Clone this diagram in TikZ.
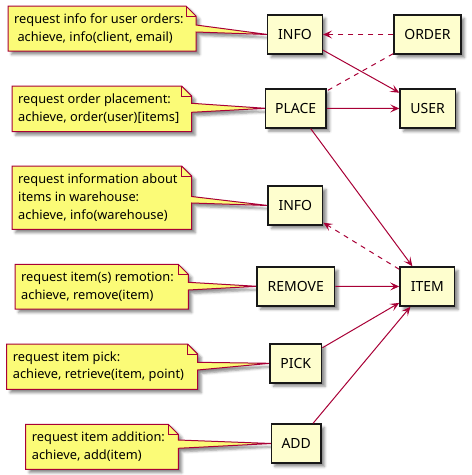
\documentclass[tikz,border=0pt]{standalone}
\usepackage{fontspec}
\setmainfont{Noto Sans}
\usetikzlibrary{arrows.meta,shadows.blur}
\definecolor{boxfill}{HTML}{FEFECE}
\definecolor{notefill}{HTML}{FBFB77}
\definecolor{plred}{HTML}{A80036}
\definecolor{boxline}{HTML}{181818}
\tikzset{
  pshadow/.style={blur shadow={shadow xshift=3.5pt, shadow yshift=-3.5pt, shadow blur radius=2.5pt, shadow opacity=45}},
  box/.style={draw=boxline, fill=boxfill, line width=1.5pt, minimum height=39pt, inner sep=0pt,
    font=\fontsize{14}{16}\selectfont, pshadow},
  notestyle/.style={draw=plred, fill=notefill, line width=1pt, line join=miter, pshadow},
  notetext/.style={font=\fontsize{12.8}{17.7}\selectfont, align=left, inner sep=0pt, anchor=west},
  conn/.style={draw=plred, line width=1pt},
  arr/.style={-{Stealth[length=9pt,width=8pt,inset=4pt]}},
  dsh/.style={dash pattern=on 5pt off 5pt},
}
% x1 y1 x2 y2 ya yb apex text
\newcommand\plnote[8]{%
  \path[notestyle] (#1,#2) -- (#3-10,#2) -- (#3,#2+10) -- (#3,#5) -- (#7) -- (#3,#6) -- (#3,#4) -- (#1,#4) -- cycle;
  \draw[plred, line width=1pt] (#3-10,#2) -- (#3-10,#2+10) -- (#3,#2+10);
  \node[notetext] at (#1+6, {(#2+#4)/2}) {#8};
}
\begin{document}
\begin{tikzpicture}[x=1pt,y=-1pt]
\useasboundingbox (0,0) rectangle (472,475);
% note tips (west sides of the boxes)
\coordinate (tip1) at (267.65,34.5);
\coordinate (tip2) at (265.35,108.3);
\coordinate (tip3) at (267.95,205.5);
\coordinate (tip4) at (256.95,286.3);
\coordinate (tip5) at (269.95,363.3);
\coordinate (tip6) at (271.35,443.5);
% notes
\plnote{8}{6}{196}{51}{25}{32}{tip1}{request info for user orders:\\\hspace*{3.3pt}achieve, info(client, email)}
\plnote{12}{86}{191.7}{131.7}{103.3}{112.3}{tip2}{request order placement:\\achieve, order(user)[items]}
\plnote{12}{166}{191.7}{229.3}{196.5}{203}{tip3}{request information about\\items in warehouse:\\achieve, info(warehouse)}
\plnote{15}{264.3}{188.3}{309}{282.3}{290}{tip4}{request item(s) remotion:\\achieve, remove(item)}
\plnote{6.7}{344}{197.7}{389.3}{362.3}{370}{tip5}{request item pick:\\achieve, retrieve(item, point)}
\plnote{25.7}{424.3}{178.3}{469.3}{440}{448.3}{tip6}{request item addition:\\achieve, add(item)}
% boxes
\node[box, minimum width=54.7pt] (info1) at (295,34.5) {INFO};
\node[box, minimum width=67pt] (order) at (427.5,34.5) {ORDER};
\node[box, minimum width=60.7pt] (place) at (295.7,108.3) {PLACE};
\node[box, minimum width=55.3pt] (user) at (427.7,108.5) {USER};
\node[box, minimum width=54.7pt] (info2) at (295.3,205.5) {INFO};
\node[box, minimum width=77.7pt] (remove) at (295.8,286.3) {REMOVE};
\node[box, minimum width=54.7pt] (item) at (427.3,286.5) {ITEM};
\node[box, minimum width=51.7pt] (pick) at (295.8,363.3) {PICK};
\node[box, minimum width=49.7pt] (add) at (296.2,443.5) {ADD};
% connectors
\draw[conn, dsh, arr] (order) -- (info1);
\draw[conn, arr] (info1) -- (user);
\draw[conn, dsh] (order) -- (place);
\draw[conn, arr] (place) -- (user);
\draw[conn, arr] (place) -- (item);
\draw[conn, dsh, arr] (item) -- (info2);
\draw[conn, arr] (remove) -- (item);
\draw[conn, arr] (pick) -- (item);
\draw[conn, arr] (add) -- (item);
\end{tikzpicture}
\end{document}
